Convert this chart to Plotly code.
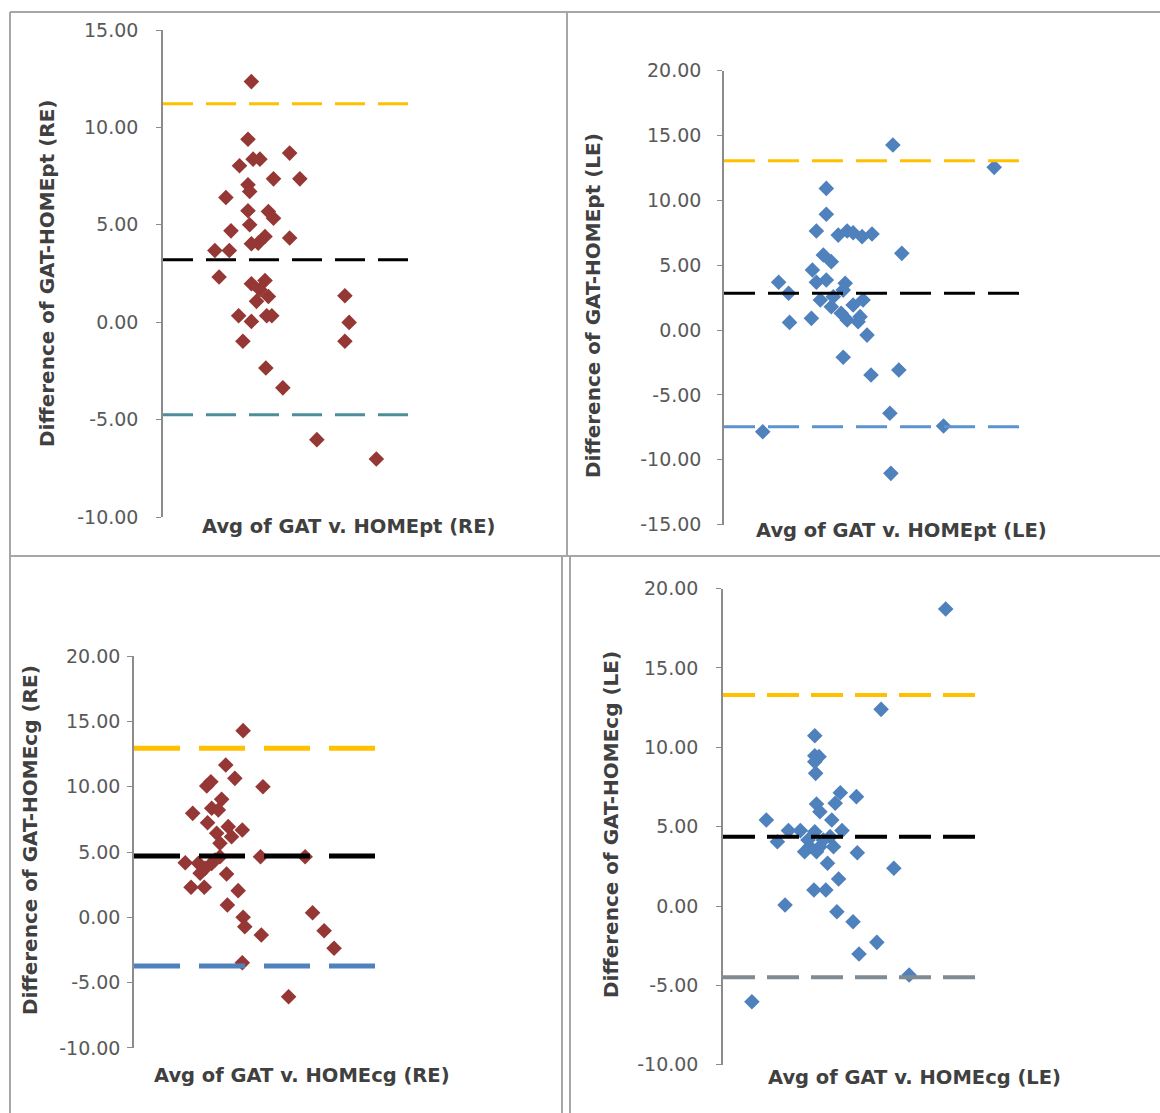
import plotly.graph_objects as go

W, H = 1160, 1113

# ---------------- DATA ----------------
# Panel 1: GAT vs HOMEpt (RE)
p1_avg = [10.4, 10.0, 14.9, 9.0, 10.6, 11.4, 13.0, 16.1, 10.0, 10.2, 7.4, 10.0, 12.4, 13.0,
          10.2, 8.0, 12.0, 14.9, 10.4, 11.2, 6.1, 7.8, 6.6, 12.0, 10.4, 11.4, 12.4, 11.0,
          21.4, 8.9, 12.2, 12.8, 10.4, 21.9, 9.4, 21.4, 12.1, 14.1, 18.1, 25.1]
p1_diff = [12.35, 9.39, 8.68, 8.03, 8.37, 8.37, 7.36, 7.36, 7.05, 6.71, 6.40, 5.72, 5.68, 5.34,
           5.00, 4.69, 4.40, 4.32, 4.03, 4.06, 3.68, 3.68, 2.32, 2.14, 1.97, 1.67, 1.32, 1.07,
           1.36, 0.33, 0.33, 0.33, 0.04, -0.01, -0.98, -0.98, -2.35, -3.37, -6.03, -7.02]
p1_limits = [11.22, 3.21, -4.75]   # upper LoA, mean, lower LoA
p1_ticks = [-10, -5, 0, 5, 10, 15]
p1_ticktext = ["-10.00", "-5.00", "0.00", "5.00", "10.00", "15.00"]

# Panel 2: GAT vs HOMEpt (LE)
p2_avg = [17.0, 27.2, 10.3, 10.3, 9.3, 11.5, 12.4, 13.0, 13.9, 14.9, 17.9, 10.0, 10.8, 8.9,
          5.5, 9.3, 12.2, 10.3, 6.5, 12.0, 9.7, 10.8, 14.0, 13.0, 11.8, 12.4, 13.5, 6.6,
          8.8, 14.4, 12.0, 14.8, 17.6, 16.7, 3.9, 22.1, 16.8, 11.0, 13.7]
p2_diff = [14.26, 12.54, 10.92, 8.92, 7.63, 7.32, 7.63, 7.50, 7.20, 7.40, 5.91, 5.78, 5.27, 4.63,
           3.68, 3.68, 3.60, 3.86, 2.83, 3.08, 2.31, 1.80, 2.31, 1.93, 1.29, 0.77, 0.64, 0.59,
           0.90, -0.39, -2.10, -3.47, -3.08, -6.42, -7.84, -7.40, -11.05, 2.57, 1.03]
p2_limits = [13.05, 2.83, -7.46]
p2_ticks = [-15, -10, -5, 0, 5, 10, 15, 20]
p2_ticktext = ["-15.00", "-10.00", "-5.00", "0.00", "5.00", "10.00", "15.00", "20.00"]

# Panel 3: GAT vs HOMEcg (RE)
p3_avg = [13.2, 11.1, 12.2, 8.8, 9.3, 15.6, 10.6, 7.1, 9.4, 10.2, 8.9, 11.4, 13.1, 10.0,
          11.8, 10.4, 6.2, 7.8, 8.6, 9.4, 8.0, 10.4, 15.3, 20.7, 11.2, 6.9, 8.5, 12.6,
          11.3, 13.2, 13.4, 15.4, 21.6, 23.0, 24.2, 13.1, 18.7, 9.8]
p3_diff = [14.29, 11.66, 10.64, 10.05, 10.38, 10.00, 9.03, 7.96, 8.35, 8.22, 7.24, 6.94, 6.68, 6.43,
           6.17, 5.67, 4.18, 4.13, 3.75, 4.13, 3.37, 4.64, 4.64, 4.64, 3.32, 2.30, 2.30, 2.04,
           0.94, 0.00, -0.72, -1.36, 0.35, -1.03, -2.37, -3.48, -6.08, 4.39]
p3_limits = [12.94, 4.69, -3.73]
p3_ticks = [-10, -5, 0, 5, 10, 15, 20]
p3_ticktext = ["-10.00", "-5.00", "0.00", "5.00", "10.00", "15.00", "20.00"]

# Panel 4: GAT vs HOMEcg (LE)
p4_avg = [26.2, 18.6, 10.8, 10.8, 11.3, 10.8, 10.9, 13.8, 15.7, 13.2, 11.0, 11.4, 5.1, 12.8,
          14.0, 7.7, 9.1, 10.8, 6.4, 10.0, 12.6, 11.4, 13.0, 9.6, 11.0, 15.8, 12.3, 20.1,
          13.6, 10.7, 12.1, 7.3, 13.4, 15.3, 18.1, 16.0, 21.9, 3.4, 10.2, 11.8]
p4_diff = [18.71, 12.39, 10.73, 9.47, 9.41, 9.09, 8.36, 7.14, 6.89, 6.47, 6.43, 5.94, 5.42, 5.42,
           4.75, 4.75, 4.75, 4.68, 4.05, 4.16, 4.37, 3.74, 3.74, 3.42, 3.42, 3.36, 2.69, 2.38,
           1.70, 1.01, 1.01, 0.06, -0.36, -0.99, -2.29, -3.02, -4.35, -6.03, 3.74, 4.16]
p4_limits = [13.30, 4.37, -4.49]
p4_ticks = [-10, -5, 0, 5, 10, 15, 20]
p4_ticktext = ["-10.00", "-5.00", "0.00", "5.00", "10.00", "15.00", "20.00"]

x_titles = ["Avg of GAT v. HOMEpt (RE)", "Avg of GAT v. HOMEpt (LE)",
            "Avg of GAT v. HOMEcg (RE)", "Avg of GAT v. HOMEcg (LE)"]
y_titles = ["Difference of GAT-HOMEpt (RE)", "Difference of GAT-HOMEpt (LE)",
            "Difference of GAT-HOMEcg (RE)", "Difference of GAT-HOMEcg (LE)"]
y_ranges = [[-10, 15], [-15, 20], [-10, 20], [-10, 20]]
x_range = [0, 30]

# ---------------- STYLE / LAYOUT ----------------
RED = "#953735"
BLUE = "#4F81BD"
YELLOW = "#FFC000"

panels = [
    dict(avg=p1_avg, diff=p1_diff, lim=p1_limits, tv=p1_ticks, tt=p1_ticktext, color=RED,
         lc=[YELLOW, "#000000", "#4E8E99"], lw=3, dash="30px,13px",
         px=(163, 418), py=(30, 517), xt=(348, 527), yt=(47, 273), standoff=14),
    dict(avg=p2_avg, diff=p2_diff, lim=p2_limits, tv=p2_ticks, tt=p2_ticktext, color=BLUE,
         lc=[YELLOW, "#000000", "#5B93D0"], lw=3, dash="31px,13px",
         px=(724, 1022), py=(70.6, 524.6), xt=(901, 530), yt=(593, 306), standoff=12),
    dict(avg=p3_avg, diff=p3_diff, lim=p3_limits, tv=p3_ticks, tt=p3_ticktext, color=RED,
         lc=[YELLOW, "#000000", "#4F81BD"], lw=5, dash="46px,19px",
         px=(134, 382), py=(656.1, 1047.9), xt=(302, 1075), yt=(30, 840), standoff=3),
    dict(avg=p4_avg, diff=p4_diff, lim=p4_limits, tv=p4_ticks, tt=p4_ticktext, color=BLUE,
         lc=[YELLOW, "#000000", "#7F8A93"], lw=4, dash="32px,12px",
         px=(723, 978), py=(588.6, 1064.7), xt=(914, 1077), yt=(611, 825), standoff=14),
]

def fx(px):
    return px / W

def fy(py):
    return 1 - py / H

fig = go.Figure()
layout = dict(
    width=W, height=H, autosize=False,
    margin=dict(l=0, r=0, t=0, b=0, pad=0, autoexpand=False),
    paper_bgcolor="white", plot_bgcolor="white", showlegend=False,
    annotations=[], shapes=[],
)

TICK_FONT = dict(family="DejaVu Sans", size=19, color="#595959")
XT_FONT = dict(family="DejaVu Sans", size=19.5, color="#404040")
YT_FONT = dict(family="DejaVu Sans", size=20, color="#404040")

for i, p in enumerate(panels):
    n = "" if i == 0 else str(i + 1)
    xa, ya = "x" + n, "y" + n
    fig.add_trace(go.Scatter(
        x=p["avg"], y=p["diff"], mode="markers", xaxis=xa, yaxis=ya,
        marker=dict(symbol="diamond", size=12, color=p["color"]),
        cliponaxis=False, hoverinfo="x+y"))
    for val, col in zip(p["lim"], p["lc"]):
        fig.add_trace(go.Scatter(
            x=x_range, y=[val, val], mode="lines", xaxis=xa, yaxis=ya,
            line=dict(color=col, width=p["lw"], dash=p["dash"]),
            hoverinfo="y"))
    layout["xaxis" + n] = dict(domain=[fx(p["px"][0]), fx(p["px"][1])], range=x_range,
                               visible=False, anchor=ya, automargin=False)
    layout["yaxis" + n] = dict(domain=[fy(p["py"][1]), fy(p["py"][0])], range=y_ranges[i],
                               tickmode="array", tickvals=p["tv"], ticktext=p["tt"],
                               showgrid=False, zeroline=False, automargin=False,
                               showline=True, linecolor="#8C8C8C", linewidth=1.5,
                               ticks="outside", ticklen=5, tickcolor="#8C8C8C",
                               tickfont=TICK_FONT, ticklabelstandoff=p["standoff"],
                               anchor=xa)
    layout["annotations"].append(dict(
        text="<b>%s</b>" % x_titles[i], x=fx(p["xt"][0]), y=fy(p["xt"][1]),
        xref="paper", yref="paper", showarrow=False, font=XT_FONT,
        xanchor="center", yanchor="middle"))
    layout["annotations"].append(dict(
        text="<b>%s</b>" % y_titles[i], x=fx(p["yt"][0]), y=fy(p["yt"][1]),
        xref="paper", yref="paper", showarrow=False, font=YT_FONT, textangle=-90,
        xanchor="center", yanchor="middle"))

# cell borders of the original table
BORDER = dict(color="#A6A6A6", width=2)
for (x0, y0, x1, y1) in [(10, 12, 1160, 12), (10, 12, 10, 1113), (10, 556, 1160, 556),
                         (567, 12, 567, 556), (562, 556, 562, 1113), (570, 556, 570, 1113)]:
    layout["shapes"].append(dict(type="line", xref="paper", yref="paper",
                                 x0=fx(x0), y0=fy(y0), x1=fx(x1), y1=fy(y1), line=BORDER))

fig.update_layout(**layout)
fig.write_html("out.html", config={"displayModeBar": False},
               post_script="document.body.style.margin='0';document.body.style.overflow='hidden';")
